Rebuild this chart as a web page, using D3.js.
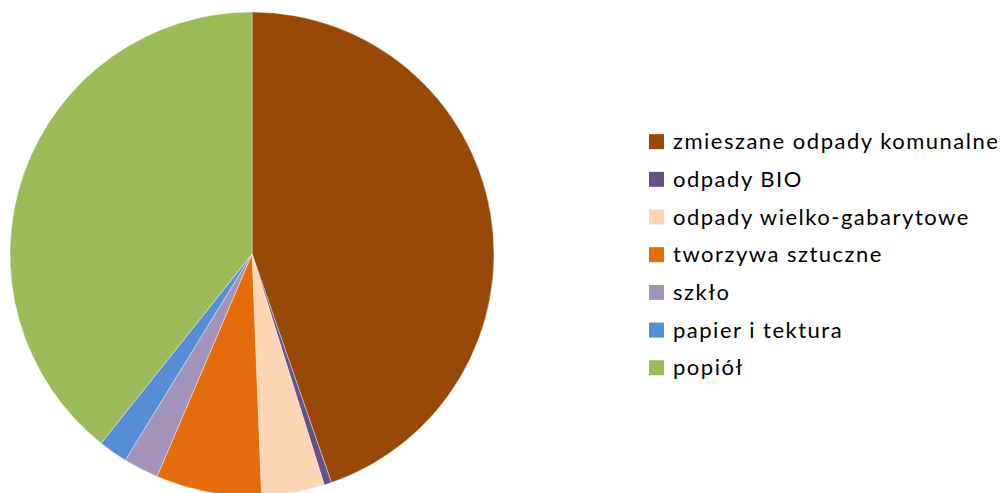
<!DOCTYPE html>
<html>
<head>
<meta charset="utf-8">
<script src="https://cdn.jsdelivr.net/npm/d3@7"></script>
<style>
  body { margin: 0; background: #fff; }
  svg { display: block; }
</style>
</head>
<body>
<div id="chart"></div>
<script>
var w = 1005,
    h = 493;

//Categories (legend order = slice order, clockwise from 12 o'clock)
var categories = ['zmieszane odpady komunalne', 'odpady BIO', 'odpady wielko-gabarytowe',
  'tworzywa sztuczne', 'szkło', 'papier i tektura', 'popiół'];

//Share of each waste type (%)
var values = [44.7, 0.5, 4.2, 7.05, 2.35, 1.95, 39.3];

var colors = ['#984807', '#66508A', '#FCD5B5', '#E46C0A', '#A193B9', '#558ED5', '#9BBB59'];

var cx = 252,
    cy = 254,
    radius = 242;

var svg = d3.select('#chart')
  .append('svg')
  .attr('width', w)
  .attr('height', h);

var pie = d3.pie()
  .sort(null)
  .value(function(d) { return d; });

var arc = d3.arc()
  .innerRadius(0)
  .outerRadius(radius);

//Slices
svg.append('g')
  .attr('transform', 'translate(' + cx + ',' + cy + ')')
  .selectAll('path')
  .data(pie(values))
  .enter()
  .append('path')
  .attr('d', arc)
  .attr('fill', function(d, i) { return colors[i]; })
  .attr('stroke', '#fff')
  .attr('stroke-width', 0.4);

//Legend
var legendY = d3.scaleBand()
  .domain(categories)
  .range([122.8, 386.6]);

var legend = svg.append('g')
  .attr('class', 'legend');

legend.selectAll('rect')
  .data(categories)
  .enter()
  .append('rect')
  .attr('x', 649)
  .attr('y', function(d) { return legendY(d) + legendY.bandwidth() / 2 - 7.5; })
  .attr('width', 15)
  .attr('height', 15)
  .style('fill', function(d, i) { return colors[i]; });

legend.selectAll('text')
  .data(categories)
  .enter()
  .append('text')
  .attr('x', 673)
  .attr('y', function(d) { return legendY(d) + legendY.bandwidth() / 2 + 7.5; })
  .attr('font-family', 'Lato, sans-serif')
  .attr('font-size', '22px')
  .attr('letter-spacing', '1.5px')
  .attr('fill', '#000')
  .text(function(d) { return d; });
</script>
</body>
</html>
